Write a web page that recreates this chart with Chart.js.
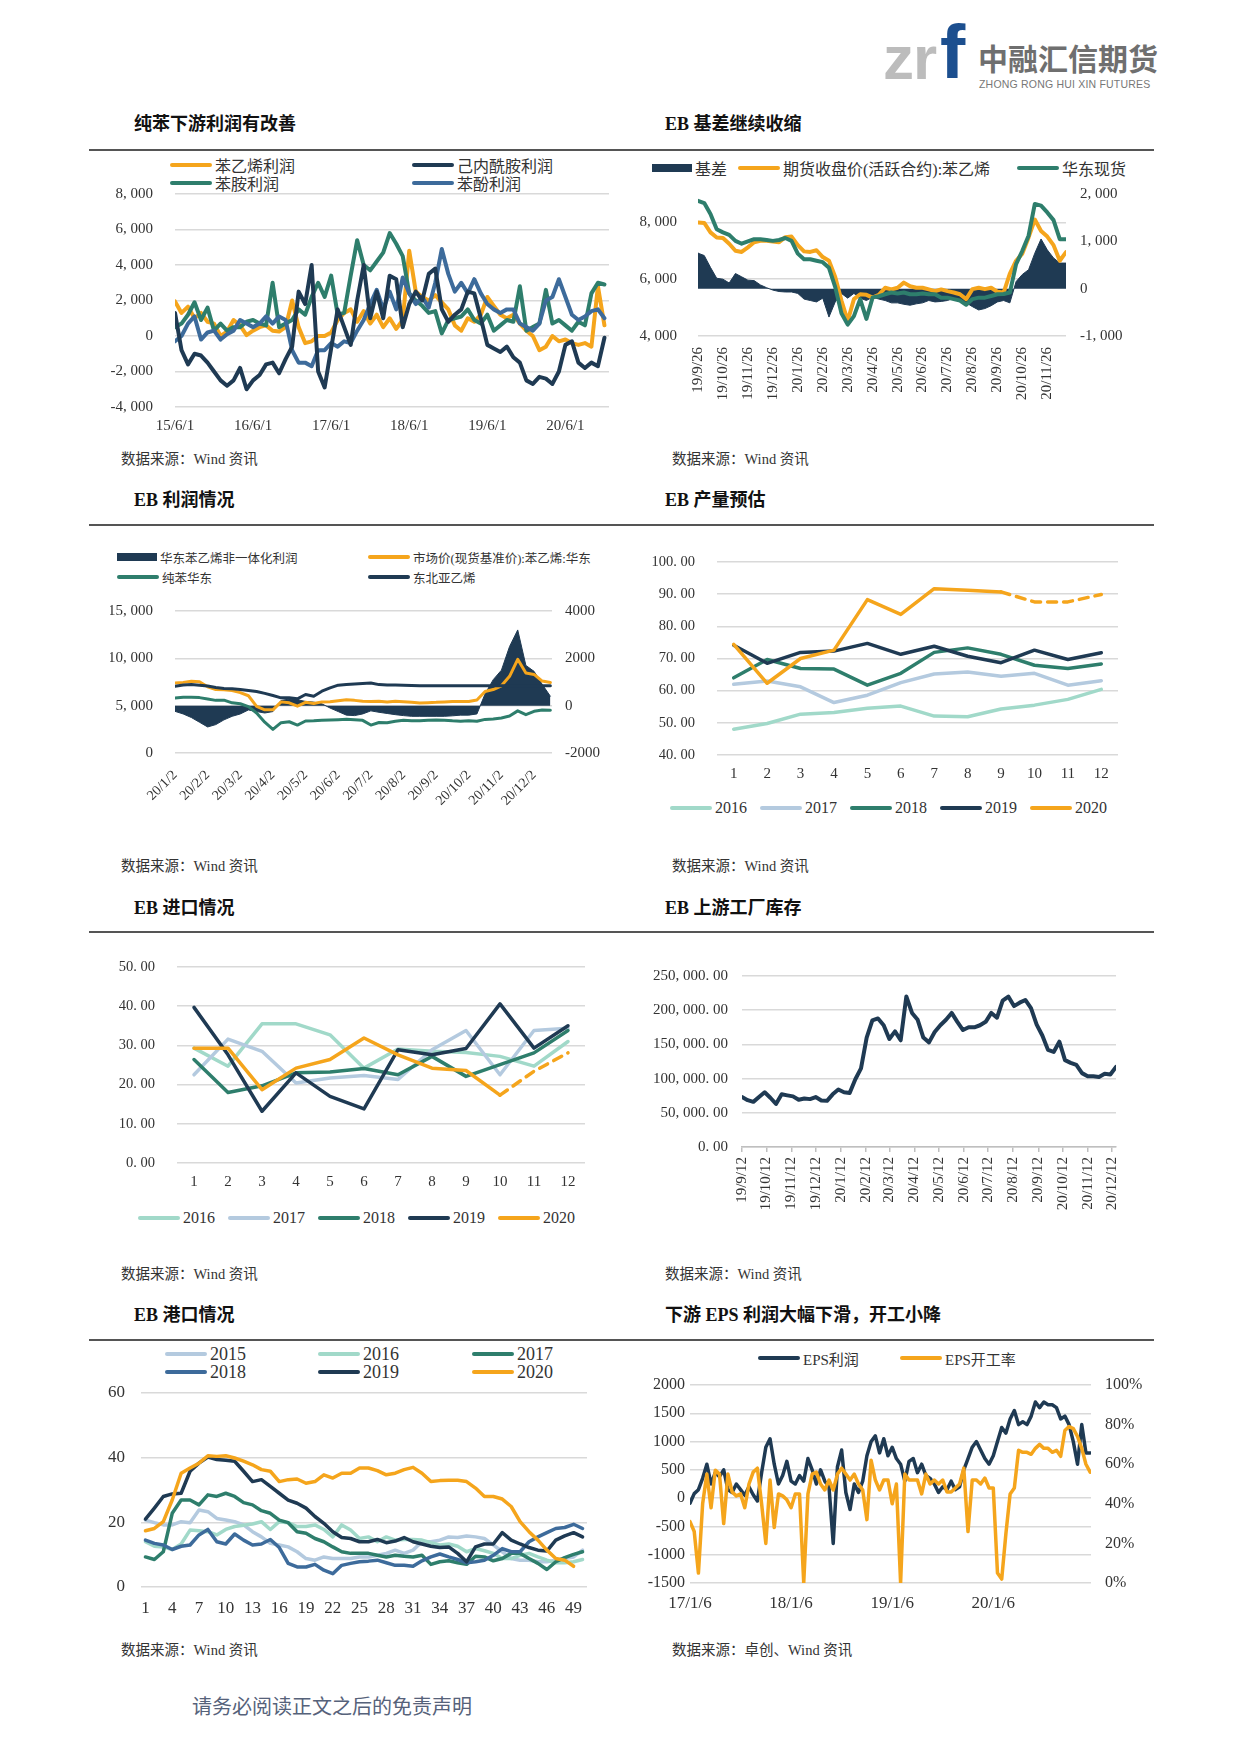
<!DOCTYPE html>
<html>
<head>
<meta charset="utf-8">
<script src="https://cdn.jsdelivr.net/npm/chart.js@4.4.1/dist/chart.umd.min.js"></script>
<style>
body{margin:0;background:#fff;}
#page{position:relative;width:1240px;height:1753px;overflow:hidden;background:#fff;font-family:"Liberation Serif","Noto Sans CJK SC",serif;color:#222;}
.t{position:absolute;white-space:nowrap;line-height:1;}
.title{font-weight:bold;font-size:18px;color:#111;}
.src{font-size:14.5px;color:#333;}
.rule{position:absolute;height:1.5px;background:#555;}
.leg{position:absolute;display:flex;align-items:center;white-space:nowrap;height:20px;color:#333;}
.sw{display:inline-block;margin-right:3px;}
</style>
</head>
<body>
<div id="page"></div>
<script>
// ---- 数据 ----
// 纯苯下游利润（月度，15/6 起）
const c1Ticks = ['15/6/1', '16/6/1', '17/6/1', '18/6/1', '19/6/1', '20/6/1'];
const c1Styrene = [1950,1300,1650,1000,1300,800,700,0,250,900,600,50,300,500,600,300,250,500,2000,500,-400,-300,0,0,200,900,1300,1500,800,1400,700,1200,500,1000,400,900,4800,2500,2200,2000,2300,1900,1500,600,300,1000,800,1200,2200,1700,1200,1000,1200,700,300,0,-800,-600,0,-300,-200,-400,-500,-400,-600,2800,600];
const c1Capro = [1300,-800,-1600,-1000,-1100,-1500,-2000,-2500,-2800,-2500,-1800,-3000,-2500,-2200,-1600,-1500,-2100,-1300,-600,2500,1800,4000,-2000,-2900,-700,1500,500,-500,2000,4000,1000,2500,1000,3400,3200,500,1800,2500,2000,3500,3800,1500,800,1200,1500,2500,2400,1000,-500,-700,-900,-600,-1200,-1500,-2500,-2700,-2300,-2400,-2700,-2000,-500,-300,-1500,-1800,-1500,-1700,-100];
const c1Aniline = [500,700,1200,1900,900,1600,300,700,300,500,500,800,900,700,600,3000,500,700,900,1500,1200,2200,3000,2200,3400,1200,1300,3400,5400,4000,3700,4200,4700,5800,5200,4500,2400,2000,1700,1300,1400,150,900,1000,1100,1500,900,700,1200,300,600,900,800,2800,300,500,700,2600,700,900,600,300,800,600,2400,3000,2900];
const c1Phenol = [-300,0,700,1100,-200,200,300,-200,100,300,900,700,500,700,1100,700,1100,900,-800,-1500,-1500,-1700,-800,-800,-400,-600,-300,-400,300,900,1800,2600,1500,2500,1500,3300,2400,1800,2200,1600,3000,4900,3500,2500,3000,2400,3200,2400,1800,1500,1300,1500,1500,700,500,300,700,2000,2200,3200,2200,1200,900,1100,1400,1500,1000];

// EB 基差（约每周一点，19/9/26 起）
const c2Ticks = ['19/9/26','19/10/26','19/11/26','19/12/26','20/1/26','20/2/26','20/3/26','20/4/26','20/5/26','20/6/26','20/7/26','20/8/26','20/9/26','20/10/26','20/11/26'];
const c2LeftTicks = [4000, 6000, 8000];
const c2Basis = [750,700,450,220,200,120,320,250,180,170, 80,20,-30,-60,-70,-70,-100,-220,-250,-280, -200,-600,-280,-100,-200,-100,-200,-250,-180,-220, -250,-300,-300,-330,-350,-320,-300,-250,-280,-270, -250,-200,-250,-300,-380,-450,-420,-360,-280,-250, -300,150,300,400,750,1050,820,650,540,540];
const c2Futures = [8000,7980,7650,7470,7450,7250,7000,6960,7120,7300, 7350,7350,7330,7300,7480,7500,7200,6980,6960,7020, 6780,6650,6080,5250,4530,5300,5470,5450,5350,5450, 5700,5640,5700,5880,5750,5700,5700,5640,5580,5640, 5580,5530,5470,5300,5650,5700,5650,5700,5560,5530, 6200,6650,6900,7470,8100,7700,7500,7200,6650,6950];
const c2Spot = [8760,8680,8300,7760,7650,7560,7350,7250,7330,7410, 7410,7380,7350,7380,7450,7350,6900,6700,6700,6650, 6600,6400,5720,4800,4400,4700,5300,4600,5360,5400, 5470,5530,5500,5530,5470,5470,5500,5470,5470,5350, 5350,5300,5250,5100,5300,5350,5350,5410,5470,5480, 5530,6530,7000,7530,8650,8590,8350,8080,7410,7410];

// EB 利润情况（2020 年，约每周一点）
const c3Ticks = ['20/1/2','20/2/2','20/3/2','20/4/2','20/5/2','20/6/2','20/7/2','20/8/2','20/9/2','20/10/2','20/11/2','20/12/2'];
const c3Profit = [-240,-350,-500,-700,-900,-800,-600,-450,-350,-180, -250,-310,-250,220,280,250,180,150,80,-100, -250,-400,-420,-350,-220,-280,-330,-380,-420,-450, -450,-450,-450,-450,-430,-400,-400,-350,500,1100, 1500,2500,3200,1700,1450,900,400];
const c3Styrene = [7390,7460,7570,7530,7000,6700,6690,6600,6380,6050, 4930,4560,4560,5400,5300,4950,5350,5220,5400,5420, 5530,5630,5560,5460,5430,5460,5400,5460,5420,5350, 5280,5320,5350,5400,5450,5450,5450,5600,6500,6700, 7100,8100,9900,8450,8300,7600,7450];
const c3Benzene = [5810,5900,5880,5850,5700,5560,5580,5300,5200,4900, 4220,3250,2500,3200,3300,2950,3380,3400,3450,3480, 3520,3560,3520,3450,2950,3220,3200,3350,3450,3400, 3400,3450,3480,3470,3400,3350,3400,3350,3550,3600, 3700,3900,4450,4050,4400,4550,4520];
const c3Ethylene = [820,870,890,860,830,770,730,710,680,640, 600,520,430,330,330,290,470,400,610,750, 865,890,920,940,960,890,870,870,860,850, 840,840,840,840,840,840,840,840,840,840, 840,840,840,840,840,840,840];

// EB 产量预估 / 进口
const months = ['1','2','3','4','5','6','7','8','9','10','11','12'];
const years = ['2016', '2017', '2018', '2019', '2020'];
const c4Prod = [
  [48.0,49.8,52.7,53.2,54.5,55.2,52.1,51.9,54.3,55.5,57.3,60.4],
  [62.0,63.0,61.2,56.3,58.6,62.5,65.2,65.8,64.5,65.4,61.7,63.1],
  [64.0,69.7,66.9,66.7,61.7,65.4,71.9,73.3,71.3,67.9,66.9,68.3],
  [74.1,68.5,71.9,72.3,74.7,71.3,73.8,70.7,68.7,72.6,69.7,71.8],
  [74.4,62.3,70.0,72.6,88.3,83.7,91.7,91.2,90.7,87.6,87.6,89.9]
];
const c5Import = [
  [29.3,24.7,35.5,35.5,32.7,24.2,29.1,28.5,28.2,27.2,24.7,31.0],
  [22.5,31.6,28.5,20.4,21.7,22.3,21.3,28.9,33.8,22.5,33.8,34.4],
  [26.4,18.0,19.7,23.0,23.2,24.1,22.5,27.2,22.1,25.1,28.1,33.8],
  [39.7,27.6,13.2,23.0,17.0,13.8,28.9,27.6,29.2,40.6,29.3,35.0],
  [29.3,29.3,18.7,24.2,26.4,31.9,27.6,24.2,23.6,17.3,23.4,28.1]
];

// EB 上游工厂库存（周度，19/9/12 起）
const c6Ticks = ['19/9/12','19/10/12','19/11/12','19/12/12','20/1/12','20/2/12','20/3/12','20/4/12','20/5/12','20/6/12','20/7/12','20/8/12','20/9/12','20/10/12','20/11/12','20/12/12'];
const c6Stock = [73000,68500,66000,73000,80000,72000,63000,77000,75500,74000, 69000,71000,70000,73000,68000,67500,77000,84000,80000,79000, 99000,115000,160000,185000,188000,178000,158000,169000,156000,220000, 196000,186000,160000,153000,168000,178000,186000,196000,183000,171000, 175000,175000,178000,183000,196000,189000,214000,220000,206000,211000, 215000,203000,179000,163000,142000,139000,154000,127000,123000,120000, 108000,103500,103500,102500,107000,106000,117000];

// EB 港口（周度）
const portYears = ['2015', '2016', '2017', '2018', '2019', '2020'];
const weeks = Array.from({length: 50}, (_, i) => String(i + 1));
const c7Port = [
  [20.7,19.9,19.2,19.2,20.2,19.9,23.8,23.3,21.2,20.7, 20.2,19.2,17.1,15.5,13.5,13.0,12.4,10.9,8.8,8.3, 9.3,8.8,8.8,8.8,9.3,9.3,9.8,10.4,11.4,10.4, 11.4,14.0,14.0,14.5,15.5,15.3,15.8,15.5,15.0,13.0, 10.9,8.8,8.3,8.3,7.8,7.8,8.3,8.8,9.3,11.4],
  [14.0,12.6,12.4,11.6,13.3,17.6,17.4,17.1,16.1,17.8, 18.7,19.1,19.5,20.2,17.8,20.2,19.9,18.7,18.7,19.2, 17.8,15.5,19.2,17.6,15.0,15.5,14.0,15.5,14.5,14.7, 14.7,14.5,13.7,13.0,13.3,12.6,10.9,11.9,11.2,10.4, 8.8,8.8,9.8,10.4,9.3,8.3,7.5,7.5,7.8,8.5],
  [9.3,8.5,10.9,22.8,26.9,26.9,25.4,28.5,28.0,29.0, 28.0,26.1,25.4,23.6,22.8,20.7,19.9,17.1,16.6,15.0, 14.0,12.4,10.9,10.4,10.4,10.4,9.8,9.3,9.8,9.5, 9.3,9.8,7.0,7.8,8.1,7.5,7.0,9.5,9.3,8.1, 8.8,10.4,10.4,8.8,7.3,5.4,7.8,9.1,10.1,10.9],
  [14.5,13.5,13.0,11.6,12.6,13.0,16.1,17.8,14.0,13.3, 16.4,14.5,13.0,13.3,14.7,12.2,7.3,6.2,6.2,7.0, 5.2,4.1,6.7,7.3,7.8,8.0,8.3,7.5,6.7,6.7, 6.4,8.1,9.3,10.2,9.3,8.5,7.5,7.8,8.3,9.8, 11.9,10.9,10.9,14.0,15.5,16.8,18.1,18.4,19.4,18.1],
  [21.0,24.4,28.0,28.8,29.0,35.8,38.3,40.2,39.4,39.2, 38.9,35.8,32.6,33.2,31.1,29.0,26.9,25.9,24.4,21.8, 19.7,17.1,15.3,15.0,14.0,14.0,14.7,13.7,14.2,15.3, 14.0,13.3,12.6,12.2,12.4,10.4,7.8,12.4,13.3,13.3, 16.8,14.5,13.3,12.2,11.4,11.1,14.5,15.8,16.8,15.5],
  [17.4,18.1,20.2,26.9,35.2,36.8,38.3,40.6,40.4,40.6, 39.9,38.9,37.8,36.3,35.8,32.6,33.2,33.4,32.1,32.6, 34.7,33.7,35.2,35.2,36.8,36.8,36.0,34.7,35.2,36.3, 37.0,35.2,32.6,32.9,33.0,33.0,32.6,30.6,28.0,28.0, 27.2,24.9,20.2,17.1,14.5,11.4,8.8,8.3,6.4]
];

// EPS 利润与开工率（半月一点，17/1/6 起）
const c8Ticks = ['17/1/6', '18/1/6', '19/1/6', '20/1/6'];
const c8Profit = [-90,80,150,350,600,250,450,380,500,150, 100,250,150,50,200,60,-50,450,900,1050, 600,250,400,650,300,250,400,300,700,500, 250,500,300,200,-800,550,850,100,-200,250, 100,300,750,1000,1100,800,1050,750,900,700, 600,300,650,700,450,600,400,350,250,100, 200,150,300,150,200,500,700,900,1000,850, 700,600,750,1000,1250,1150,1400,1550,1300,1350, 1300,1450,1700,1600,1700,1650,1650,1600,1400,1450, 1300,1000,600,1300,800,800];
const c8Rate = [31,26,5,40,55,38,57,55,30,55, 46,44,45,38,50,56,58,40,20,52, 28,45,44,42,38,45,45,0,45,55, 56,50,47,52,47,55,58,55,52,55, 50,47,32,62,52,47,52,52,40,50, 0,55,52,52,52,45,55,50,52,50, 52,46,46,48,50,58,26,52,52,50, 53,48,48,5,2,25,45,48,67,66, 66,65,68,70,68,68,66,67,64,77, 79,78,74,68,60,56];

// ---- 颜色 ----
const ORANGE = '#F5A51C', NAVY = '#1F3A53', TEAL = '#2E7E6C', BLUE = '#3D6B9B';
const MINT = '#A1D9C9', PALE = '#B4CADF';
const yearColors = [MINT, PALE, TEAL, NAVY, ORANGE];
const portColors = [PALE, MINT, TEAL, BLUE, NAVY, ORANGE];

const SERIF = '"Liberation Serif", "Noto Sans CJK SC", serif';
Chart.defaults.font.family = SERIF;
Chart.defaults.color = '#333';
Chart.defaults.animation = false;
Chart.defaults.maintainAspectRatio = false;
Chart.defaults.plugins.legend.display = false;
Chart.defaults.plugins.tooltip.enabled = false;
Chart.defaults.elements.point.radius = 0;
Chart.defaults.elements.line.borderCapStyle = 'round';
Chart.defaults.elements.line.borderJoinStyle = 'round';

// y 轴：网格线 + 透明刻度线（刻度线长度用来控制标签与绘图区的间距）
function ygrid(gap) {
  return {color: '#d9d9d9', lineWidth: 1.5, drawTicks: true, tickLength: gap, tickColor: 'transparent'};
}
// 右侧 y 轴：不画网格
function rgrid(gap) {
  return {display: true, drawOnChartArea: false, color: 'transparent', drawTicks: true, tickLength: gap, tickColor: 'transparent'};
}
const NOGRID = {display: false, drawTicks: false};
const NOBORDER = {display: false};

const page = document.getElementById('page');

function thou(v) {
  return (v < 0 ? '-' : '') + Math.abs(v).toLocaleString('en-US').replace(/,/g, ', ');
}
function dec2(v) {
  const p = Math.abs(v).toFixed(2).split('.');
  return thou(Number(p[0])) + '. ' + p[1];
}
const plain = v => String(v);

function box(x, y, w, h) {
  const d = document.createElement('div');
  d.style.cssText = 'position:absolute;left:' + x + 'px;top:' + y + 'px;width:' + w + 'px;height:' + h + 'px;';
  const c = document.createElement('canvas');
  d.appendChild(c);
  page.appendChild(d);
  return c;
}

function text(x, yc, s, cls, css) {
  const d = document.createElement('div');
  d.className = 't ' + (cls || '');
  d.textContent = s;
  d.style.left = x + 'px';
  d.style.top = yc + 'px';
  d.style.transform = 'translateY(-50%)';
  if (css) d.style.cssText += css;
  page.appendChild(d);
  return d;
}

function rule(y) {
  const d = document.createElement('div');
  d.className = 'rule';
  d.style.left = '89px';
  d.style.width = '1065px';
  d.style.top = y + 'px';
  page.appendChild(d);
}

// kind: 'line' 线条图例, 'box' 面积图例
function leg(x, yc, color, label, kind, size) {
  const d = document.createElement('div');
  d.className = 'leg';
  d.style.left = x + 'px';
  d.style.top = (yc - 10) + 'px';
  d.style.fontSize = size + 'px';
  const sw = document.createElement('span');
  sw.className = 'sw';
  sw.style.background = color;
  if (kind === 'box') {
    sw.style.width = '40px'; sw.style.height = '8px';
  } else {
    sw.style.width = '42px'; sw.style.height = '4px'; sw.style.borderRadius = '2px';
  }
  d.appendChild(sw);
  const t = document.createElement('span');
  t.textContent = label;
  d.appendChild(t);
  page.appendChild(d);
}

function series(vals, color, width, step, extra) {
  return Object.assign({
    data: vals.map((v, i) => ({x: i * step, y: v})),
    borderColor: color, backgroundColor: color, borderWidth: width, fill: false
  }, extra || {});
}

function fixW(w) { return s => { s.width = w; }; }
function fixH(h) { return s => { s.height = h; }; }

// ---- 页眉 ----
text(883, 58, 'zr', '', 'font-family:"Liberation Sans",sans-serif;font-weight:bold;font-size:62px;color:#bcbcbc;letter-spacing:-1px;');
text(940, 52, 'f', '', 'font-family:"Liberation Sans",sans-serif;font-weight:bold;font-size:76px;color:#1C4F8F;');
text(978, 57, '中融汇信期货', '', 'font-family:"Noto Sans CJK SC",sans-serif;font-weight:bold;font-size:30px;color:#6f6f6f;');
text(979, 84, 'ZHONG RONG HUI XIN FUTURES', '', 'font-family:"Liberation Sans",sans-serif;font-size:10.5px;color:#777;letter-spacing:0.2px;');

// ---- 标题、分隔线、来源 ----
text(134, 124, '纯苯下游利润有改善', 'title');
text(665, 124, 'EB 基差继续收缩', 'title');
text(134, 500, 'EB 利润情况', 'title');
text(665, 500, 'EB 产量预估', 'title');
text(134, 908, 'EB 进口情况', 'title');
text(665, 908, 'EB 上游工厂库存', 'title');
text(134, 1315, 'EB 港口情况', 'title');
text(665, 1315, '下游 EPS 利润大幅下滑，开工小降', 'title');
rule(149); rule(524); rule(931); rule(1339);
text(121, 459, '数据来源：Wind 资讯', 'src');
text(672, 459, '数据来源：Wind 资讯', 'src');
text(121, 866, '数据来源：Wind 资讯', 'src');
text(672, 866, '数据来源：Wind 资讯', 'src');
text(121, 1274, '数据来源：Wind 资讯', 'src');
text(665, 1274, '数据来源：Wind 资讯', 'src');
text(121, 1650, '数据来源：Wind 资讯', 'src');
text(672, 1650, '数据来源：卓创、Wind 资讯', 'src');
text(192, 1706, '请务必阅读正文之后的免责声明', '', 'font-family:"Noto Sans CJK SC",sans-serif;font-size:20px;color:#56627a;');

// ---- 图 1：纯苯下游利润 ----
leg(170, 165, ORANGE, '苯乙烯利润', 'line', 16);
leg(412, 165, NAVY, '己内酰胺利润', 'line', 16);
leg(170, 183, TEAL, '苯胺利润', 'line', 16);
leg(412, 183, BLUE, '苯酚利润', 'line', 16);
new Chart(box(110, 184, 509, 255), {
  type: 'line',
  data: {datasets: [
    series(c1Capro, NAVY, 4, 1),
    series(c1Phenol, BLUE, 4, 1),
    series(c1Aniline, TEAL, 4, 1),
    series(c1Styrene, ORANGE, 4, 1)
  ]},
  options: {
    layout: {padding: {top: 10, right: 10}},
    scales: {
      x: {type: 'linear', min: 0, max: 66.7, grid: NOGRID, border: NOBORDER,
        afterBuildTicks: s => { s.ticks = c1Ticks.map((t, i) => ({value: i * 12})); },
        ticks: {callback: (v, i) => c1Ticks[i], padding: 10, maxRotation: 0, autoSkip: false, font: {size: 15}},
        afterFit: fixH(32)},
      y: {min: -4000, max: 8000, grid: ygrid(22), border: NOBORDER,
        ticks: {stepSize: 2000, callback: thou, padding: 0, font: {size: 15}},
        afterFit: fixW(65)}
    }
  }
});

// ---- 图 2：EB 基差 ----
leg(652, 168, NAVY, '基差', 'box', 16);
leg(738, 168, ORANGE, '期货收盘价(活跃合约):苯乙烯', 'line', 16);
leg(1017, 168, TEAL, '华东现货', 'line', 16);
new Chart(box(638, 184, 498, 227), {
  type: 'line',
  data: {datasets: [
    series(c2Basis, NAVY, 1, 0.25, {fill: 'origin', yAxisID: 'y1', order: 3}),
    series(c2Futures, ORANGE, 4, 0.25, {order: 2}),
    series(c2Spot, TEAL, 4, 0.25, {order: 1})
  ]},
  options: {
    layout: {padding: {top: 10}},
    scales: {
      x: {type: 'linear', min: 0, max: 14.75, grid: NOGRID, border: NOBORDER,
        afterBuildTicks: s => { s.ticks = c2Ticks.map((t, i) => ({value: i})); },
        ticks: {callback: (v, i) => c2Ticks[i], padding: 11, minRotation: 90, maxRotation: 90, autoSkip: false, font: {size: 15}},
        afterFit: fixH(75)},
      y: {min: 4000, max: 9000, grid: ygrid(21), border: NOBORDER,
        afterBuildTicks: s => { s.ticks = c2LeftTicks.map(v => ({value: v})); },
        ticks: {callback: thou, padding: 0, font: {size: 15}},
        afterFit: fixW(60)},
      y1: {position: 'right', min: -1000, max: 2000, grid: rgrid(14), border: NOBORDER,
        ticks: {stepSize: 1000, callback: thou, padding: 0, font: {size: 15}},
        afterFit: fixW(70)}
    }
  }
});

// ---- 图 3：EB 利润情况 ----
leg(117, 557, NAVY, '华东苯乙烯非一体化利润', 'box', 12.5);
leg(368, 557, ORANGE, '市场价(现货基准价):苯乙烯:华东', 'line', 12.5);
leg(117, 577, TEAL, '纯苯华东', 'line', 12.5);
leg(368, 577, NAVY, '东北亚乙烯', 'line', 12.5);
new Chart(box(110, 600, 497, 213), {
  type: 'line',
  data: {datasets: [
    series(c3Profit, NAVY, 1, 0.25, {fill: 'origin', yAxisID: 'y1', order: 4}),
    series(c3Benzene, TEAL, 3, 0.25, {order: 3}),
    series(c3Styrene, ORANGE, 3, 0.25, {order: 2}),
    series(c3Ethylene, NAVY, 3, 0.25, {yAxisID: 'y1', order: 1})
  ]},
  options: {
    layout: {padding: {top: 11}},
    scales: {
      x: {type: 'linear', min: 0, max: 11.55, grid: NOGRID, border: NOBORDER,
        afterBuildTicks: s => { s.ticks = c3Ticks.map((t, i) => ({value: i})); },
        ticks: {callback: (v, i) => c3Ticks[i], padding: 14, minRotation: 45, maxRotation: 45, autoSkip: false, font: {size: 14}},
        afterFit: fixH(60)},
      y: {min: 0, max: 15000, grid: ygrid(22), border: NOBORDER,
        ticks: {stepSize: 5000, callback: thou, padding: 0, font: {size: 15}},
        afterFit: fixW(65)},
      y1: {position: 'right', min: -2000, max: 4000, grid: rgrid(13), border: NOBORDER,
        ticks: {stepSize: 2000, callback: plain, padding: 0, font: {size: 15}},
        afterFit: fixW(55)}
    }
  }
});

// ---- 图 4 / 图 5：年度对比折线 ----
function yearChart(canvas, rows, ymin, ymax, dashFrom, wl) {
  return new Chart(canvas, {
    type: 'line',
    data: {
      labels: months,
      datasets: rows.map((r, k) => ({
        data: r, borderColor: yearColors[k], backgroundColor: yearColors[k], borderWidth: 3.5, order: -k,
        segment: k === 4 ? {borderDash: c => c.p0DataIndex >= dashFrom ? [9, 7] : undefined} : undefined
      }))
    },
    options: {
      layout: {padding: {top: 11, right: 12}},
      scales: {
        x: {offset: true, grid: NOGRID, border: NOBORDER, ticks: {padding: 10, maxRotation: 0, font: {size: 15}}, afterFit: fixH(30)},
        y: {min: ymin, max: ymax, grid: ygrid(22), border: NOBORDER,
          ticks: {stepSize: 10, callback: dec2, padding: 0, font: {size: 14.5}}, afterFit: fixW(wl)}
      }
    }
  });
}
years.forEach((y, k) => leg(670 + 90 * k, 808, yearColors[k], y, 'line', 16));
yearChart(box(637, 551, 493, 234), c4Prod, 40, 100, 8, 80);
years.forEach((y, k) => leg(138 + 90 * k, 1218, yearColors[k], y, 'line', 16));
yearChart(box(107, 956, 490, 237), c5Import, 0, 50, 9, 70);

// ---- 图 6：EB 上游工厂库存 ----
const c6Base = Date.UTC(2019, 8, 12);
function weekOf(lbl) {
  const p = lbl.split('/').map(Number);
  return (Date.UTC(2000 + p[0], p[1] - 1, p[2]) - c6Base) / 86400000 / 7;
}
new Chart(box(637, 965, 498, 262), {
  type: 'line',
  data: {datasets: [series(c6Stock, NAVY, 4, 1)]},
  options: {
    layout: {padding: {top: 11, right: 4}},
    scales: {
      x: {type: 'linear', min: 0, max: 66,
        grid: {display: true, drawOnChartArea: false, drawTicks: true, tickLength: 5, color: '#bfbfbf', lineWidth: 1.5},
        border: {display: true, color: '#bfbfbf', width: 1.5},
        afterBuildTicks: s => { s.ticks = c6Ticks.map(t => ({value: weekOf(t)})); },
        ticks: {callback: (v, i) => c6Ticks[i], padding: 5, minRotation: 90, maxRotation: 90, autoSkip: false, font: {size: 15}},
        afterFit: fixH(80)},
      y: {min: 0, max: 250000, grid: ygrid(14), border: NOBORDER,
        ticks: {stepSize: 50000, callback: dec2, padding: 0, font: {size: 15}},
        afterFit: fixW(105)}
    }
  }
});

// ---- 图 7：EB 港口 ----
portYears.forEach((y, k) => leg([165, 318, 472][k % 3], k < 3 ? 1354 : 1372, portColors[k], y, 'line', 18));
new Chart(box(101, 1382, 496, 237), {
  type: 'line',
  data: {
    labels: weeks,
    datasets: c7Port.map((r, k) => ({data: r, borderColor: portColors[k], backgroundColor: portColors[k], borderWidth: 3.5, order: -k}))
  },
  options: {
    layout: {padding: {top: 11, right: 10}},
    scales: {
      x: {offset: true, grid: NOGRID, border: NOBORDER,
        ticks: {autoSkip: false, maxRotation: 0, padding: 11, font: {size: 17}, callback: (v, i) => i % 3 === 0 ? weeks[i] : ''},
        afterFit: fixH(32)},
      y: {min: 0, max: 60, grid: ygrid(16), border: NOBORDER,
        ticks: {stepSize: 20, padding: 0, font: {size: 17}}, afterFit: fixW(40)}
    }
  }
});

// ---- 图 8：EPS 利润 / 开工率 ----
leg(758, 1358, NAVY, 'EPS利润', 'line', 15);
leg(900, 1358, ORANGE, 'EPS开工率', 'line', 15);
new Chart(box(635, 1374, 511, 241), {
  type: 'line',
  data: {datasets: [
    series(c8Profit, NAVY, 3.5, 0.5, {order: 2}),
    series(c8Rate, ORANGE, 3.5, 0.5, {yAxisID: 'y1', order: 1})
  ]},
  options: {
    layout: {padding: {top: 11}},
    scales: {
      x: {type: 'linear', min: 0, max: 47.6, grid: NOGRID, border: NOBORDER,
        afterBuildTicks: s => { s.ticks = c8Ticks.map((t, i) => ({value: i * 12})); },
        ticks: {callback: (v, i) => c8Ticks[i], padding: 10, maxRotation: 0, autoSkip: false, font: {size: 17}},
        afterFit: fixH(32)},
      y: {min: -1500, max: 2000, grid: ygrid(5), border: NOBORDER,
        ticks: {stepSize: 500, callback: plain, padding: 0, font: {size: 16}}, afterFit: fixW(55)},
      y1: {position: 'right', min: 0, max: 100, grid: rgrid(14), border: NOBORDER,
        ticks: {stepSize: 20, padding: 0, font: {size: 16}, callback: v => v + '%'}, afterFit: fixW(55)}
    }
  }
});
</script>
</body>
</html>
